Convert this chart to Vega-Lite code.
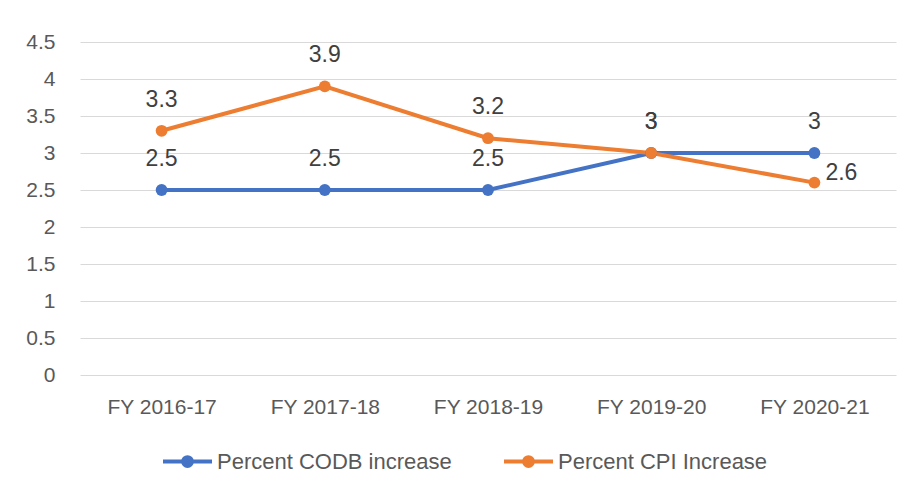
{
  "$schema": "https://vega.github.io/schema/vega-lite/v6.json",
  "width": 816,
  "height": 333,
  "autosize": {"type": "none"},
  "padding": {"left": 80, "top": 42, "right": 13, "bottom": 114},
  "background": "white",
  "config": {
    "view": {"stroke": null},
    "font": "Liberation Sans"
  },
  "data": {
    "values": [
      {"year": "FY 2016-17", "series": "Percent CODB increase", "value": 2.5},
      {"year": "FY 2017-18", "series": "Percent CODB increase", "value": 2.5},
      {"year": "FY 2018-19", "series": "Percent CODB increase", "value": 2.5},
      {"year": "FY 2019-20", "series": "Percent CODB increase", "value": 3},
      {"year": "FY 2020-21", "series": "Percent CODB increase", "value": 3},
      {"year": "FY 2016-17", "series": "Percent CPI Increase", "value": 3.3},
      {"year": "FY 2017-18", "series": "Percent CPI Increase", "value": 3.9},
      {"year": "FY 2018-19", "series": "Percent CPI Increase", "value": 3.2},
      {"year": "FY 2019-20", "series": "Percent CPI Increase", "value": 3},
      {"year": "FY 2020-21", "series": "Percent CPI Increase", "value": 2.6}
    ]
  },
  "encoding": {
    "x": {
      "field": "year", "type": "ordinal",
      "scale": {"type": "point", "padding": 0.5},
      "axis": {
        "title": null, "labelAngle": 0, "domain": false, "ticks": false, "grid": false,
        "labelFontSize": 21, "labelColor": "#595959", "labelPadding": 21
      }
    },
    "y": {
      "field": "value", "type": "quantitative",
      "scale": {"domain": [0, 4.5], "nice": false},
      "axis": {
        "title": null, "values": [0, 0.5, 1, 1.5, 2, 2.5, 3, 3.5, 4, 4.5], "format": "~g",
        "domain": false, "ticks": false, "gridColor": "#d9d9d9", "gridWidth": 1,
        "labelFontSize": 21, "labelColor": "#595959", "labelPadding": 25
      }
    },
    "color": {
      "field": "series", "type": "nominal",
      "scale": {"domain": ["Percent CODB increase", "Percent CPI Increase"], "range": ["#4472C4", "#ED7D31"]},
      "legend": {
        "title": null, "orient": "none", "direction": "horizontal",
        "legendX": 81, "legendY": 393,
        "symbolType": "M-1,0L1,0M0.18,0A0.18,0.18,0,1,1,-0.18,0A0.18,0.18,0,1,1,0.18,0Z",
        "symbolSize": 2401, "symbolStrokeWidth": 4,
        "labelFontSize": 22, "labelColor": "#595959", "labelOffset": 3, "labelLimit": 400,
        "columnPadding": 44,
        "encode": {
          "symbols": {"update": {
            "fill": {"scale": "color", "field": "value"},
            "stroke": {"scale": "color", "field": "value"},
            "strokeWidth": {"value": 4},
            "opacity": {"value": 1}
          }}
        }
      }
    }
  },
  "layer": [
    {"mark": {"type": "line", "strokeWidth": 4}},
    {"mark": {"type": "point", "filled": true, "size": 140, "opacity": 1}},
    {
      "transform": [{"filter": "!(datum.series == 'Percent CPI Increase' && datum.year == 'FY 2020-21')"}],
      "mark": {"type": "text", "baseline": "middle", "dy": -31, "fontSize": 23, "color": "#404040"},
      "encoding": {"text": {"field": "value", "type": "quantitative"}, "color": {"value": "#404040"}}
    },
    {
      "transform": [{"filter": "datum.series == 'Percent CPI Increase' && datum.year == 'FY 2020-21'"}],
      "mark": {"type": "text", "baseline": "middle", "align": "left", "dx": 11, "dy": -10, "fontSize": 23, "color": "#404040"},
      "encoding": {"text": {"field": "value", "type": "quantitative"}, "color": {"value": "#404040"}}
    }
  ]
}
